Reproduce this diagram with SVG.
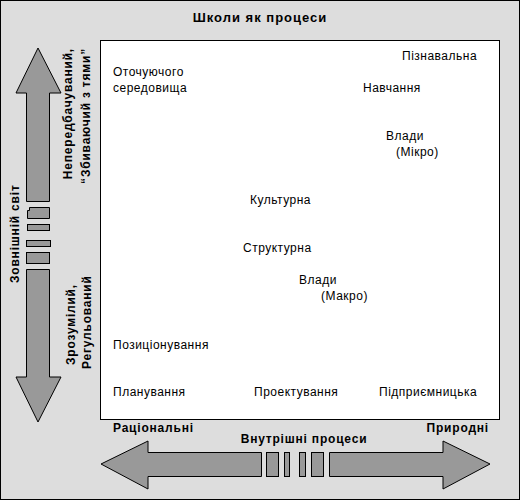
<svg xmlns="http://www.w3.org/2000/svg" width="520" height="500" viewBox="0 0 520 500">
<style>
.t{font-family:"Liberation Sans",Arial,sans-serif;font-size:12px;fill:#000;letter-spacing:0.5px}
.b{font-family:"Liberation Sans",Arial,sans-serif;font-size:12px;font-weight:bold;fill:#000;letter-spacing:0.8px}
.ar{fill:#999999;stroke:#000;stroke-width:1}
</style>
<rect x="0.5" y="0.5" width="519" height="499" fill="#dddddd" stroke="#000" stroke-width="1"/>
<rect x="100.5" y="40.5" width="399" height="379" fill="#fff" stroke="#000" stroke-width="1"/>
<text class="b" x="260" y="22" text-anchor="middle" style="font-size:13px;letter-spacing:1px">Школи як процеси</text>
<g id="connectors">
<g id="vertical-arrow">
<polygon class="ar" points="38,48 61,93 49.5,93 49.5,201.5 26.5,201.5 26.5,93 16,93"/>
<polygon class="ar" points="29.5,207.5 49.5,207.5 49.5,218.5 27.5,218.5 27.5,210.5 29.5,210.5"/>
<rect class="ar" x="27.5" y="224.5" width="22" height="6"/>
<rect class="ar" x="26.5" y="240.5" width="24" height="6"/>
<rect class="ar" x="26.5" y="252.5" width="23" height="11"/>
<polygon class="ar" points="26.5,269.5 49.5,269.5 49.5,377 61,377 38,422 16,377 26.5,377"/>
</g>
<g id="horizontal-arrow">
<polygon class="ar" points="101,464 148,441 148,452.5 261.5,452.5 261.5,476.5 148,476.5 148,489"/>
<rect class="ar" x="266.5" y="452.5" width="12" height="24"/>
<rect class="ar" x="284.5" y="452.5" width="5" height="24"/>
<rect class="ar" x="299.5" y="452.5" width="6" height="24"/>
<rect class="ar" x="311.5" y="452.5" width="12" height="24"/>
<polygon class="ar" points="329.5,452.5 443,452.5 443,441 490,464 443,489 443,476.5 329.5,476.5"/>
</g>
</g>
<g id="axis-labels">
<text class="b" transform="translate(19,283) rotate(-90)">Зовнішній світ</text>
<text class="b" transform="translate(72,48) rotate(-90)" text-anchor="end">Непередбачуваний,</text>
<text class="b" transform="translate(90,48) rotate(-90)" text-anchor="end">“Збиваючий з тями”</text>
<text class="b" transform="translate(75,365) rotate(-90)">Зрозумілий,</text>
<text class="b" transform="translate(91,369) rotate(-90)">Регульований</text>
<text class="b" x="113" y="432">Раціональні</text>
<text class="b" x="304" y="443" text-anchor="middle">Внутрішні процеси</text>
<text class="b" x="489" y="432" text-anchor="end">Природні</text>
</g>
<g id="n-piznavalna"><text class="t" x="402" y="60">Пізнавальна</text></g>
<g id="n-otochuyuchogo"><text class="t" x="113" y="76">Оточуючого</text><text class="t" x="113" y="92">середовища</text></g>
<g id="n-navchannya"><text class="t" x="363" y="92">Навчання</text></g>
<g id="n-vlady-mikro"><text class="t" x="386" y="140">Влади</text><text class="t" x="396" y="156">(Мікро)</text></g>
<g id="n-kulturna"><text class="t" x="250" y="204">Культурна</text></g>
<g id="n-strukturna"><text class="t" x="243" y="252">Структурна</text></g>
<g id="n-vlady-makro"><text class="t" x="299" y="284">Влади</text><text class="t" x="321" y="300">(Макро)</text></g>
<g id="n-pozytsionuvannya"><text class="t" x="113" y="349">Позиціонування</text></g>
<g id="n-planuvannya"><text class="t" x="113" y="396">Планування</text></g>
<g id="n-proektuvannya"><text class="t" x="254" y="396">Проектування</text></g>
<g id="n-pidpryiemnytska"><text class="t" x="379" y="396">Підприємницька</text></g>
</svg>
